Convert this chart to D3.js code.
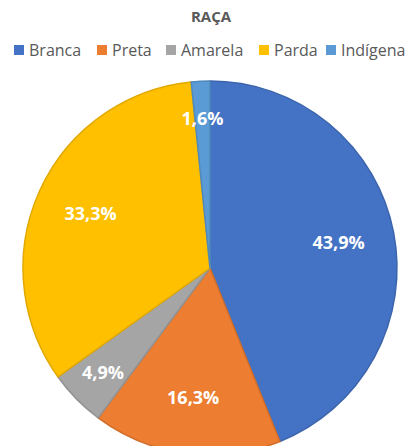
<!DOCTYPE html>
<html>
<head>
    <meta charset="utf-8">
    <title>RAÇA</title>
    <script src="https://d3js.org/d3.v7.min.js"></script>
    <style>
        body { margin: 0; background: #fff; }
        #chart { width: 415px; height: 446px; }
        text { font-family: "Open Sans", "Noto Sans", sans-serif; }
    </style>
</head>
<body>
    <div id="chart"></div>
    <script>
        // dados
        const categorias = ["Branca", "Preta", "Amarela", "Parda", "Indígena"];
        const valores = [43.9, 16.3, 4.9, 33.3, 1.6];
        const cores = ["#4472C4", "#ED7D31", "#A5A5A5", "#FFC000", "#5B9BD5"];
        const titulo = "RAÇA";

        const width = 415, height = 446;
        const cx = 210, cy = 268, raio = 187;

        const svg = d3.select("#chart").append("svg")
            .attr("width", width)
            .attr("height", height);

        // título
        svg.append("text")
            .attr("x", 211)
            .attr("y", 22)
            .attr("text-anchor", "middle")
            .style("font-size", "15px")
            .style("font-weight", "bold")
            .style("fill", "#595959")
            .text(titulo);

        // legenda
        const legendX = [14, 97, 166, 259, 326];
        const legenda = svg.append("g").attr("transform", "translate(0,56)");
        categorias.forEach((c, i) => {
            const g = legenda.append("g").attr("transform", `translate(${legendX[i]},0)`);
            g.append("rect")
                .attr("x", 0).attr("y", -11)
                .attr("width", 10).attr("height", 10)
                .style("fill", cores[i]);
            g.append("text")
                .attr("x", 15)
                .attr("y", 0)
                .style("font-size", "16px")
                .style("fill", "#595959")
                .text(c);
        });

        const cor = d3.scaleOrdinal().domain(categorias).range(cores);

        const pie = d3.pie().sort(null).value(d => d.valor);
        const dados = categorias.map((c, i) => ({ categoria: c, valor: valores[i] }));
        const arcos = pie(dados);

        const arc = d3.arc().innerRadius(0).outerRadius(raio);
        const arcLabel = d3.arc().innerRadius(131).outerRadius(131);
        const arcLabelPequeno = d3.arc().innerRadius(150).outerRadius(150);

        const g = svg.append("g").attr("transform", `translate(${cx},${cy})`);

        g.selectAll("path")
            .data(arcos)
            .enter()
            .append("path")
            .attr("d", arc)
            .style("fill", d => cor(d.data.categoria))
            .style("stroke", d => d3.color(cor(d.data.categoria)).darker(0.35))
            .style("stroke-width", 1.5)
            .style("stroke-linejoin", "round");

        // rótulos
        g.selectAll("text.rotulo")
            .data(arcos)
            .enter()
            .append("text")
            .attr("class", "rotulo")
            .attr("transform", d => {
                const a = d.data.valor < 10 ? arcLabelPequeno : arcLabel;
                const [x, y] = a.centroid(d);
                return `translate(${x},${y})`;
            })
            .attr("text-anchor", "middle")
            .attr("dy", "0.35em")
            .style("font-size", "18px")
            .style("font-weight", "bold")
            .style("fill", "#fff")
            .text(d => d.data.valor.toFixed(1).replace(".", ",") + "%");
    </script>
</body>
</html>
